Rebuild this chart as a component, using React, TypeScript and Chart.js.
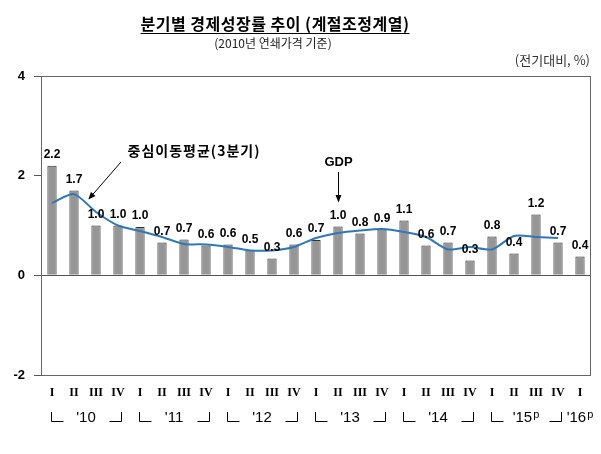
import React, { useEffect, useRef } from "react";
import { Chart, registerables } from "chart.js";

Chart.register(...registerables);

const QUARTERS = ["I", "II", "III", "IV", "I", "II", "III", "IV", "I", "II", "III", "IV", "I", "II", "III", "IV", "I", "II", "III", "IV", "I", "II", "III", "IV", "I"];
const YEARS = ["'10", "'11", "'12", "'13", "'14", "'15", "'16"];
const YEAR_MARKS = ["", "", "", "", "", "p", "p"];
const GDP_GROWTH = [2.2, 1.7, 1.0, 1.0, 0.97, 0.66, 0.72, 0.6, 0.62, 0.5, 0.34, 0.62, 0.71, 0.98, 0.84, 0.92, 1.1, 0.6, 0.66, 0.3, 0.78, 0.44, 1.22, 0.66, 0.38];
const MOVING_AVG = [1.45, 1.63, 1.27, 1.0, 0.89, 0.77, 0.63, 0.62, 0.57, 0.5, 0.5, 0.57, 0.75, 0.85, 0.9, 0.93, 0.87, 0.77, 0.52, 0.57, 0.52, 0.79, 0.77, 0.75, null];
const Y_TICKS = [-2, 0, 2, 4];
const TITLE = "분기별 경제성장률 추이 (계절조정계열)";
const SUBTITLE = "(2010년 연쇄가격 기준)";
const UNIT = "(전기대비, %)";
const MA_LABEL = "중심이동평균(3분기)";
const GDP_LABEL = "GDP";

const KR = "'Noto Sans CJK KR', 'Noto Sans', sans-serif";
const SANS = "'Liberation Sans', Arial, sans-serif";
const SERIF = "'Liberation Serif', 'Times New Roman', serif";

function drawArrow(ctx: CanvasRenderingContext2D, x1: number, y1: number, x2: number, y2: number, head: number) {
  const a = Math.atan2(y2 - y1, x2 - x1);
  ctx.beginPath();
  ctx.moveTo(x1, y1);
  ctx.lineTo(x2 - Math.cos(a) * head * 0.7, y2 - Math.sin(a) * head * 0.7);
  ctx.stroke();
  ctx.beginPath();
  ctx.moveTo(x2, y2);
  ctx.lineTo(x2 - head * Math.cos(a - 0.38), y2 - head * Math.sin(a - 0.38));
  ctx.lineTo(x2 - head * Math.cos(a + 0.38), y2 - head * Math.sin(a + 0.38));
  ctx.closePath();
  ctx.fill();
}

const decorPlugin = {
  id: "decor",
  beforeDraw(chart: any) {
    const { ctx, width, height } = chart;
    ctx.save();
    ctx.fillStyle = "#fff";
    ctx.fillRect(0, 0, width, height);
    ctx.restore();
  },
  beforeDatasetsDraw(chart: any) {
    const { ctx, chartArea } = chart;
    ctx.save();
    ctx.strokeStyle = "#666";
    ctx.lineWidth = 1;
    ctx.strokeRect(
      Math.round(chartArea.left) + 0.5,
      Math.round(chartArea.top) + 0.5,
      Math.round(chartArea.right - chartArea.left) - 1,
      Math.round(chartArea.bottom - chartArea.top)
    );
    ctx.restore();
  },
  afterDraw(chart: any) {
    const { ctx } = chart;
    const xs = chart.scales.x;
    const ys = chart.scales.y;
    ctx.save();

    // Title
    ctx.fillStyle = "#000";
    ctx.textAlign = "center";
    ctx.textBaseline = "middle";
    ctx.font = `bold 16px ${KR}`;
    (ctx as any).letterSpacing = "0.5px";
    const tcx = 275;
    ctx.fillText(TITLE, tcx, 24);
    const tw = ctx.measureText(TITLE).width;
    (ctx as any).letterSpacing = "0px";
    ctx.strokeStyle = "#000";
    ctx.lineWidth = 1;
    ctx.beginPath();
    ctx.moveTo(tcx - tw / 2, 33.5);
    ctx.lineTo(tcx + tw / 2, 33.5);
    ctx.stroke();

    ctx.fillStyle = "#222";
    ctx.font = `12px ${KR}`;
    ctx.fillText(SUBTITLE, 273, 43);

    // Unit
    ctx.textAlign = "right";
    ctx.font = `13px ${KR}`;
    ctx.fillStyle = "#333";
    ctx.fillText(UNIT, 590, 60);

    // Data labels
    const meta = chart.getDatasetMeta(0);
    ctx.fillStyle = "#000";
    ctx.textAlign = "center";
    ctx.textBaseline = "middle";
    ctx.font = `bold 12px ${SANS}`;
    meta.data.forEach((el: any, i: number) => {
      const v = GDP_GROWTH[i];
      ctx.fillText(v.toFixed(1), el.x, el.y - 11);
    });

    // Year row
    ctx.strokeStyle = "#000";
    ctx.fillStyle = "#000";
    ctx.lineWidth = 1;
    const rowBase = 421;
    YEARS.forEach((yr, g) => {
      const i0 = g * 4;
      const i3 = Math.min(g * 4 + 3, QUARTERS.length - 1);
      const x0 = xs.getPixelForValue(i0);
      const x3 = xs.getPixelForValue(i3);
      let center: number;
      if (i3 > i0) {
        const lx = Math.round(x0 - 1) + 0.5;
        const rx = Math.round(x3 + 3) + 0.5;
        ctx.beginPath();
        ctx.moveTo(lx, rowBase - 9);
        ctx.lineTo(lx, rowBase + 0.5);
        ctx.lineTo(lx + 12, rowBase + 0.5);
        ctx.moveTo(rx - 12, rowBase + 0.5);
        ctx.lineTo(rx, rowBase + 0.5);
        ctx.lineTo(rx, rowBase - 9);
        ctx.stroke();
        center = (x0 + x3) / 2 + 1;
      } else {
        center = x0;
      }
      ctx.font = `15px ${SANS}`;
      const w1 = ctx.measureText(yr).width;
      ctx.font = `11px ${SANS}`;
      const mark = YEAR_MARKS[g];
      const w2 = mark ? ctx.measureText(mark).width + 1 : 0;
      const start = center - (w1 + w2) / 2;
      ctx.textAlign = "left";
      ctx.textBaseline = "alphabetic";
      ctx.font = `15px ${SANS}`;
      ctx.fillText(yr, start, rowBase + 0.5);
      if (mark) {
        ctx.font = `11px ${SANS}`;
        ctx.fillText(mark, start + w1 + 1, rowBase - 3);
      }
    });

    // Annotation: moving average
    ctx.textAlign = "center";
    ctx.textBaseline = "middle";
    ctx.font = `bold 14px ${KR}`;
    (ctx as any).letterSpacing = "1px";
    ctx.fillStyle = "#000";
    ctx.fillText(MA_LABEL, 194, 151);
    (ctx as any).letterSpacing = "0px";
    ctx.strokeStyle = "#000";
    ctx.lineWidth = 1;
    const maX = xs.getPixelForValue(1.65);
    const maY = ys.getPixelForValue(1.52);
    drawArrow(ctx, 121, 162, maX, maY, 8);

    // Annotation: GDP
    const gx = Math.round(xs.getPixelForValue(13)) + 0.5;
    ctx.font = `bold 13px ${SANS}`;
    ctx.fillText(GDP_LABEL, gx, 162);
    const gTip = ys.getPixelForValue(GDP_GROWTH[13]) - 24;
    drawArrow(ctx, gx, 172, gx, gTip, 8);

    ctx.restore();
  },
};

export default function App() {
  const ref = useRef<HTMLCanvasElement | null>(null);

  useEffect(() => {
    if (!ref.current) return;
    const chart = new Chart(ref.current, {
      type: "bar",
      data: {
        labels: QUARTERS,
        datasets: [
          {
            type: "bar",
            label: "GDP",
            data: GDP_GROWTH,
            backgroundColor: "#969696",
            borderColor: "#333",
            borderWidth: 1,
            barPercentage: 0.42,
            categoryPercentage: 1,
            order: 2,
          },
          {
            type: "line",
            label: "중심이동평균(3분기)",
            data: MOVING_AVG,
            borderColor: "#2f78b8",
            borderWidth: 2,
            pointRadius: 0,
            tension: 0.25,
            fill: false,
            spanGaps: false,
            order: 1,
          } as any,
        ],
      },
      options: {
        responsive: false,
        animation: false,
        layout: { padding: { left: 0, top: 76, right: 10, bottom: 0 } },
        plugins: {
          legend: { display: false },
          tooltip: { enabled: false },
          title: { display: false },
        },
        scales: {
          x: {
            type: "category",
            offset: true,
            grid: { display: false, drawTicks: false },
            border: { display: false },
            ticks: {
              autoSkip: false,
              maxRotation: 0,
              padding: 11,
              color: "#000",
              font: { family: SERIF, size: 12, weight: "bold" },
            },
            afterFit: (s: any) => {
              s.height = 79;
            },
          },
          y: {
            min: -2,
            max: 4,
            afterBuildTicks: (s: any) => {
              s.ticks = Y_TICKS.map((v) => ({ value: v }));
            },
            grid: {
              drawTicks: true,
              tickLength: 7,
              tickColor: "#555",
              color: (c: any) => (c.tick && c.tick.value === 0 ? "#555" : "rgba(0,0,0,0)"),
            },
            border: { display: false },
            ticks: {
              padding: 9,
              color: "#000",
              font: { family: SANS, size: 13, weight: "bold" },
              callback: (v: any) => String(v),
            },
            afterFit: (s: any) => {
              s.width = 41;
            },
          },
        },
      },
      plugins: [decorPlugin],
    });
    return () => chart.destroy();
  }, []);

  return (
    <div style={{ position: "absolute", left: 0, top: 0, width: 601, height: 454 }}>
      <canvas ref={ref} width={601} height={454} style={{ display: "block" }} />
    </div>
  );
}
